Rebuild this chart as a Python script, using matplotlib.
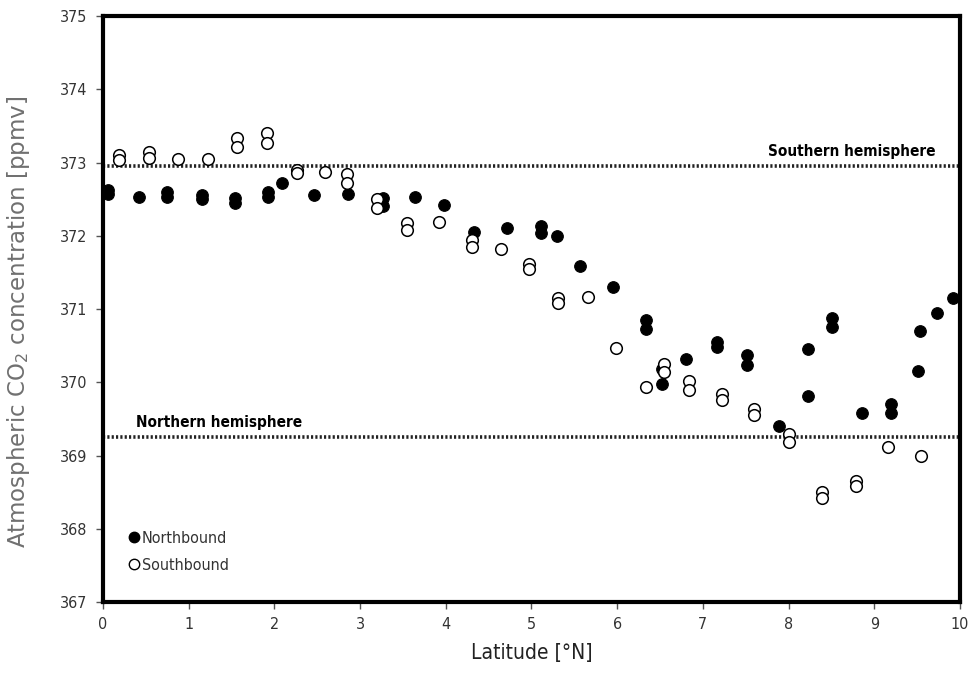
import matplotlib
matplotlib.use("Agg")
import matplotlib.pyplot as plt
from matplotlib.lines import Line2D

# latitude [deg N] and CO2 [ppmv] for the northbound ship track
north_lat = [0.06, 0.06, 0.42, 0.75, 0.75, 1.16, 1.16, 1.54, 1.54, 1.93, 1.93,
             2.09, 2.46, 2.86, 3.27, 3.27, 3.64, 3.98, 4.33, 4.71, 5.11, 5.11,
             5.30, 5.57, 5.95, 6.34, 6.34, 6.52, 6.52, 6.80, 7.16, 7.16, 7.52,
             7.52, 7.89, 8.23, 8.23, 8.51, 8.51, 8.86, 9.20, 9.20, 9.51, 9.53,
             9.73, 9.92]
north_co2 = [372.63, 372.57, 372.53, 372.60, 372.53, 372.55, 372.50, 372.52, 372.45,
             372.60, 372.53, 372.72, 372.56, 372.57, 372.52, 372.40, 372.53, 372.42,
             372.05, 372.10, 372.14, 372.04, 372.00, 371.59, 371.30, 370.85, 370.73,
             370.18, 369.98, 370.32, 370.55, 370.48, 370.37, 370.24, 369.40, 370.45,
             369.81, 370.88, 370.75, 369.58, 369.71, 369.58, 370.15, 370.70, 370.95,
             371.15]

# southbound track
south_lat = [0.19, 0.19, 0.54, 0.54, 0.88, 1.22, 1.56, 1.56, 1.91, 1.91, 2.26,
             2.26, 2.59, 2.85, 2.85, 3.20, 3.20, 3.55, 3.55, 3.92, 4.30, 4.30,
             4.64, 4.97, 4.97, 5.31, 5.31, 5.66, 5.99, 6.34, 6.55, 6.55, 6.84,
             6.84, 7.22, 7.22, 7.60, 7.60, 8.00, 8.00, 8.39, 8.39, 8.79, 8.79,
             9.16, 9.55]
south_co2 = [373.10, 373.03, 373.14, 373.06, 373.05, 373.05, 373.33, 373.21, 373.40,
             373.27, 372.90, 372.85, 372.87, 372.84, 372.72, 372.50, 372.38, 372.18,
             372.08, 372.19, 371.94, 371.85, 371.82, 371.62, 371.55, 371.15, 371.08,
             371.16, 370.47, 369.94, 370.25, 370.14, 370.02, 369.90, 369.84, 369.76,
             369.63, 369.55, 369.30, 369.19, 368.50, 368.42, 368.65, 368.58, 369.12,
             369.00]

# hemispheric mean concentrations
southern_mean = 372.95
northern_mean = 369.25

narrow = dict(family="DejaVu Sans", stretch="condensed")
tick_grey = "#333333"

fig = plt.figure(figsize=(9.69, 6.93), dpi=100)
ax = fig.add_axes([0.1063, 0.1313, 0.8844, 0.8456])

ax.axhline(southern_mean, color="#222222", lw=2.6, ls=(0, (0.6, 0.6)), zorder=1)
ax.axhline(northern_mean, color="#222222", lw=2.6, ls=(0, (0.6, 0.6)), zorder=1)

ax.scatter(north_lat, north_co2, s=70, c="black", edgecolors="black",
           linewidths=0.8, zorder=3)
ax.scatter(south_lat, south_co2, s=70, facecolors="white", edgecolors="black",
           linewidths=1.1, zorder=4)

ax.text(9.71, southern_mean + 0.1, "Southern hemisphere", ha="right", va="bottom",
        fontsize=11, fontweight="bold", **narrow)
ax.text(0.38, northern_mean + 0.1, "Northern hemisphere", ha="left", va="bottom",
        fontsize=11, fontweight="bold", **narrow)

ax.set_xlim(0, 10)
ax.set_ylim(367, 375)
ax.set_xticks(range(0, 11))
ax.set_yticks(range(367, 376))

for side in ["left", "bottom", "top", "right"]:
    ax.spines[side].set_linewidth(3)
    ax.spines[side].set_color("black")
ax.tick_params(direction="out", length=5, width=1, colors="#555555",
               labelcolor=tick_grey, labelsize=11.5, pad=6)
for lab in ax.get_xticklabels() + ax.get_yticklabels():
    lab.set_family("DejaVu Sans")
    lab.set_stretch("condensed")

ax.set_xlabel("Latitude [°N]", fontsize=15, color="#222222", labelpad=8,
              **narrow)
ax.set_ylabel("Atmospheric CO$_2$ concentration [ppmv]", fontsize=16.5,
              family="DejaVu Sans", color="#707070")
ax.yaxis.set_label_coords(-0.083, 0.478)

handles = [
    Line2D([], [], ls="none", marker="o", ms=7.5, mfc="black", mec="black"),
    Line2D([], [], ls="none", marker="o", ms=7.5, mfc="white", mec="black"),
]
leg = ax.legend(handles, ["Northbound", "Southbound"], loc="lower left",
                bbox_to_anchor=(0.01, 0.025), frameon=False, handletextpad=0.0,
                handlelength=1.0, labelspacing=0.75,
                prop=dict(size=11.5, **narrow))
for t in leg.get_texts():
    t.set_color(tick_grey)

fig.savefig("out.png", dpi=100, facecolor="white")
